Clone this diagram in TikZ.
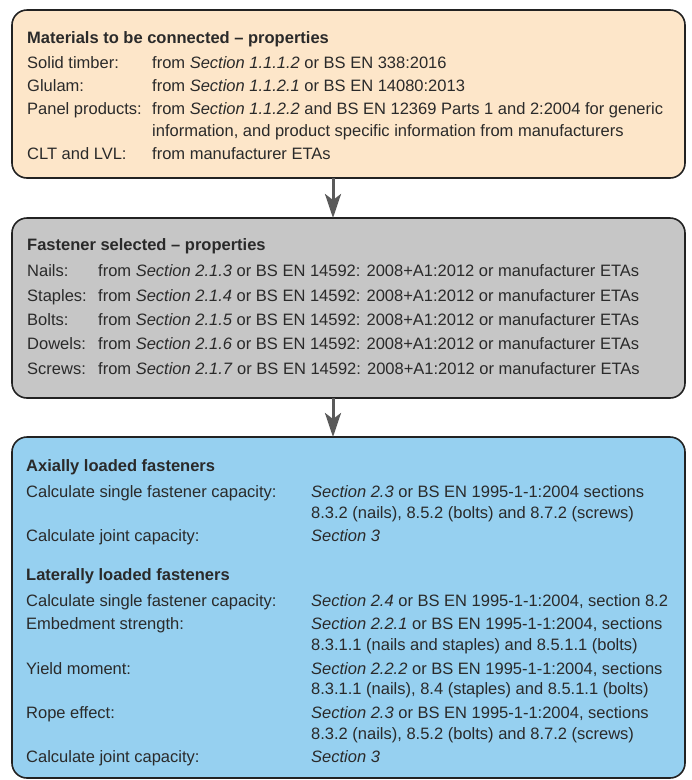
\documentclass[tikz,border=0pt]{standalone}
\usepackage{fontspec}
\setmainfont{Liberation Sans}
\usetikzlibrary{arrows.meta}
\definecolor{peach}{HTML}{FDE6C9}
\definecolor{greybox}{HTML}{C6C6C6}
\definecolor{bluebox}{HTML}{96D0F0}
\definecolor{edge}{HTML}{222222}
\definecolor{arrowc}{HTML}{5A5A5A}
\definecolor{txt}{HTML}{2A2A2A}
\tikzset{
  panel/.style={draw=edge, line width=1.6pt, rounded corners=15pt},
  lbl/.style={anchor=base west, inner sep=0pt, text=txt, font=\fontsize{16.5}{19}\selectfont},
  ttl/.style={lbl, font=\fontsize{16.5}{19}\selectfont\bfseries},
  flow/.style={draw=arrowc, line width=3pt, -{Stealth[length=24pt,width=16pt,inset=6pt]}, shorten >=0pt}
}
\begin{document}
\begin{tikzpicture}[x=1pt,y=-1pt]
\useasboundingbox (0,0) rectangle (692,780);
% boxes
\path[panel, fill=peach] (12,10) rectangle (685,178);
\path[panel, fill=greybox] (12,218) rectangle (685,398);
\path[panel, fill=bluebox] (12,437) rectangle (685,778);
\coordinate (b1s) at (333,178);
\coordinate (b2n) at (333,218);
\coordinate (b2s) at (333,398);
\coordinate (b3n) at (333,437);
\draw[flow] (b1s) -- (b2n);
\draw[flow] (b2s) -- (b3n);
% box 1
\node[ttl] (m0) at (27,43) {Materials to be connected -- properties};
\node[lbl] (m1l) at (27,68) {Solid timber:};
\node[lbl] (m1r) at (152,68) {from \emph{Section 1.1.1.2} or BS EN 338:2016};
\node[lbl] (m2l) at (27,91) {Glulam:};
\node[lbl] (m2r) at (152,91) {from \emph{Section 1.1.2.1} or BS EN 14080:2013};
\node[lbl] (m3l) at (27,114) {Panel products:};
\node[lbl] (m3r) at (152,114) {from \emph{Section 1.1.2.2} and BS EN 12369 Parts 1 and 2:2004 for generic};
\node[lbl] (m3s) at (152,136) {information, and product specific information from manufacturers};
\node[lbl] (m4l) at (27,159) {CLT and LVL:};
\node[lbl] (m4r) at (152,159) {from manufacturer ETAs};
% box 2
\node[ttl] (f0) at (27,250) {Fastener selected -- properties};
\node[lbl] (f1l) at (27,276) {Nails:};
\node[lbl] (f1r) at (98,276) {from \emph{Section 2.1.3} or BS EN 14592: 2008+A1:2012 or manufacturer ETAs};
\node[lbl] (f2l) at (27,301) {Staples:};
\node[lbl] (f2r) at (98,301) {from \emph{Section 2.1.4} or BS EN 14592: 2008+A1:2012 or manufacturer ETAs};
\node[lbl] (f3l) at (27,325) {Bolts:};
\node[lbl] (f3r) at (98,325) {from \emph{Section 2.1.5} or BS EN 14592: 2008+A1:2012 or manufacturer ETAs};
\node[lbl] (f4l) at (27,349) {Dowels:};
\node[lbl] (f4r) at (98,349) {from \emph{Section 2.1.6} or BS EN 14592: 2008+A1:2012 or manufacturer ETAs};
\node[lbl] (f5l) at (27,374) {Screws:};
\node[lbl] (f5r) at (98,374) {from \emph{Section 2.1.7} or BS EN 14592: 2008+A1:2012 or manufacturer ETAs};
% box 3
\node[ttl] (a0) at (26,471) {Axially loaded fasteners};
\node[lbl] (a1l) at (26,497) {Calculate single fastener capacity:};
\node[lbl] (a1r) at (311,497) {\emph{Section 2.3} or BS EN 1995-1-1:2004 sections};
\node[lbl] (a1s) at (311,518) {8.3.2 (nails), 8.5.2 (bolts) and 8.7.2 (screws)};
\node[lbl] (a2l) at (26,541) {Calculate joint capacity:};
\node[lbl] (a2r) at (311,541) {\emph{Section 3}};
\node[ttl] (l0) at (26,580) {Laterally loaded fasteners};
\node[lbl] (l1l) at (26,606) {Calculate single fastener capacity:};
\node[lbl] (l1r) at (311,606) {\emph{Section 2.4} or BS EN 1995-1-1:2004, section 8.2};
\node[lbl] (l2l) at (26,629) {Embedment strength:};
\node[lbl] (l2r) at (311,629) {\emph{Section 2.2.1} or BS EN 1995-1-1:2004, sections};
\node[lbl] (l2s) at (311,650) {8.3.1.1 (nails and staples) and 8.5.1.1 (bolts)};
\node[lbl] (l3l) at (26,674) {Yield moment:};
\node[lbl] (l3r) at (311,674) {\emph{Section 2.2.2} or BS EN 1995-1-1:2004, sections};
\node[lbl] (l3s) at (311,694) {8.3.1.1 (nails), 8.4 (staples) and 8.5.1.1 (bolts)};
\node[lbl] (l4l) at (26,718) {Rope effect:};
\node[lbl] (l4r) at (311,718) {\emph{Section 2.3} or BS EN 1995-1-1:2004, sections};
\node[lbl] (l4s) at (311,739) {8.3.2 (nails), 8.5.2 (bolts) and 8.7.2 (screws)};
\node[lbl] (l5l) at (26,762) {Calculate joint capacity:};
\node[lbl] (l5r) at (311,762) {\emph{Section 3}};
\end{tikzpicture}
\end{document}
